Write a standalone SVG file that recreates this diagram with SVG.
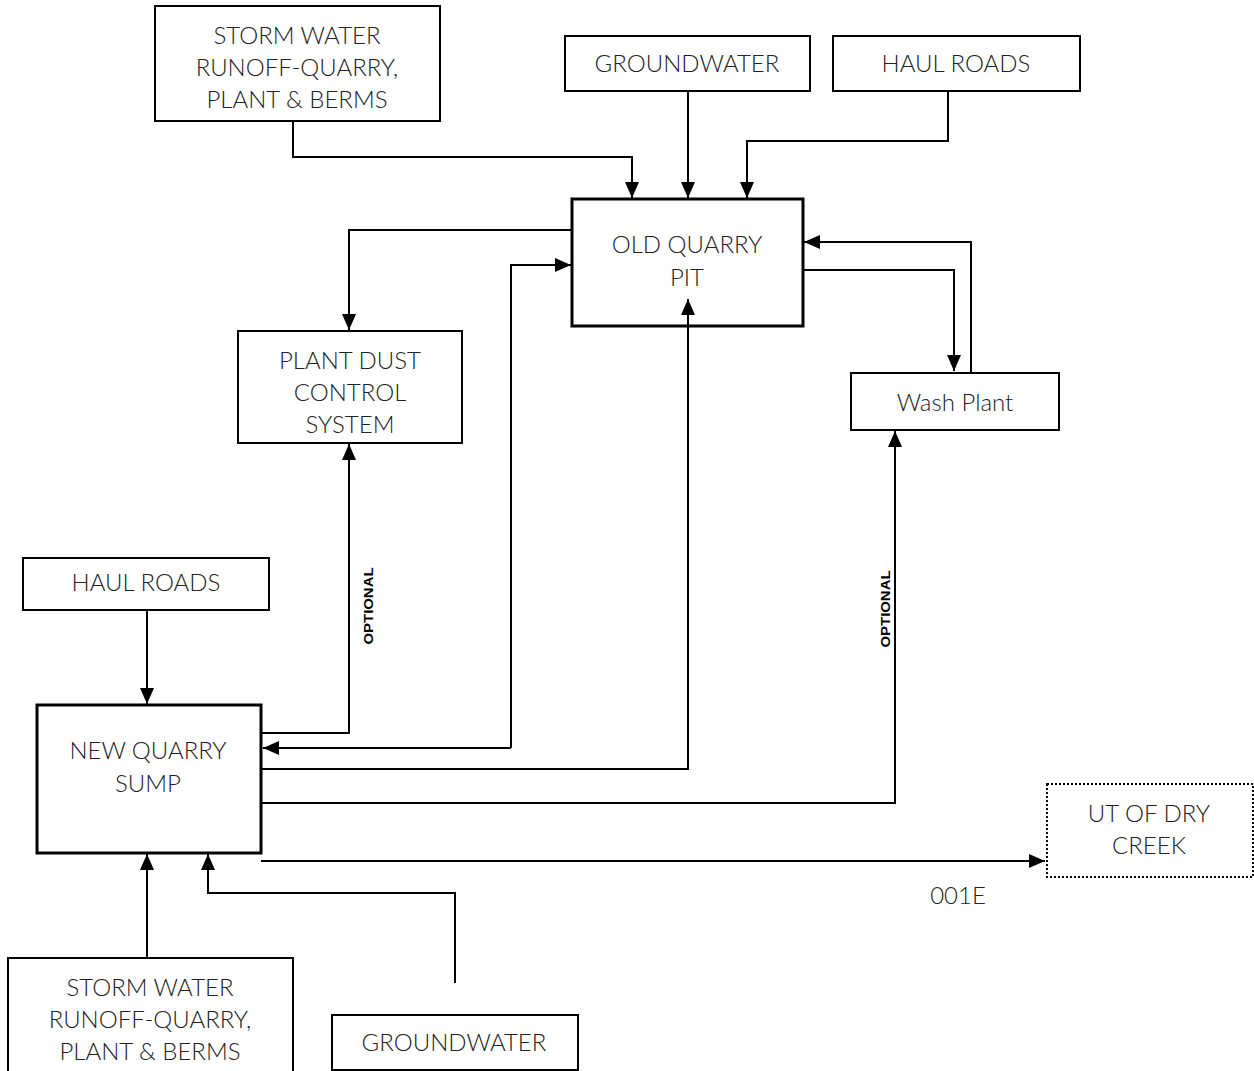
<svg xmlns="http://www.w3.org/2000/svg" width="1254" height="1071" viewBox="0 0 1254 1071">
<style>
.box{fill:#fff;stroke:#000;stroke-width:2}
.thick{fill:#fff;stroke:#000;stroke-width:3}
.dot{fill:#fff;stroke:#000;stroke-width:2;stroke-dasharray:2 2}
.t{font-family:Lato,"Liberation Sans",sans-serif;font-weight:300;font-size:24px;fill:#222;text-anchor:middle}
.opt{font-family:"Liberation Sans",Arial,sans-serif;font-weight:bold;font-size:13.5px;fill:#000;text-anchor:middle}
.c{fill:none;stroke:#000;stroke-width:2}
</style>
<defs>
<marker id="ah" markerUnits="userSpaceOnUse" markerWidth="16" markerHeight="14" viewBox="0 0 16 14" refX="16" refY="7" orient="auto">
<path d="M0,0 L16,7 L0,14 Z" fill="#000"/>
</marker>
</defs>
<rect width="1254" height="1071" fill="#fff"/>
<g id="storm-top"><rect class="box" x="155" y="6" width="285" height="115"/>
<text class="t" x="297" y="44">STORM WATER</text><text class="t" x="297" y="76">RUNOFF-QUARRY,</text><text class="t" x="297" y="108">PLANT &amp; BERMS</text></g>
<g id="groundwater-top"><rect class="box" x="565" y="36" width="245" height="55"/>
<text class="t" x="687" y="72">GROUNDWATER</text></g>
<g id="haul-top"><rect class="box" x="833" y="36" width="247" height="55"/>
<text class="t" x="956" y="72">HAUL ROADS</text></g>
<g id="old-quarry"><rect class="thick" x="572" y="199" width="231" height="127"/>
<text class="t" x="687" y="253">OLD QUARRY</text><text class="t" x="687" y="286">PIT</text></g>
<g id="plant-dust"><rect class="box" x="238" y="331" width="224" height="112"/>
<text class="t" x="350" y="369">PLANT DUST</text><text class="t" x="350" y="401">CONTROL</text><text class="t" x="350" y="433">SYSTEM</text></g>
<g id="wash-plant"><rect class="box" x="851" y="373" width="208" height="57"/>
<text class="t" x="955" y="411">Wash Plant</text></g>
<g id="haul-left"><rect class="box" x="23" y="558" width="246" height="52"/>
<text class="t" x="146" y="591">HAUL ROADS</text></g>
<g id="new-quarry"><rect class="thick" x="37" y="705" width="224" height="148"/>
<text class="t" x="148" y="759">NEW QUARRY</text><text class="t" x="148" y="792">SUMP</text></g>
<g id="ut-dry-creek"><rect class="dot" x="1047" y="784" width="206" height="93"/>
<text class="t" x="1149" y="822">UT OF DRY</text><text class="t" x="1149" y="854">CREEK</text></g>
<g id="storm-bottom"><rect class="box" x="8" y="958" width="285" height="120"/>
<text class="t" x="150" y="996">STORM WATER</text><text class="t" x="150" y="1028">RUNOFF-QUARRY,</text><text class="t" x="150" y="1060">PLANT &amp; BERMS</text></g>
<g id="groundwater-bottom"><rect class="box" x="332" y="1015" width="246" height="55"/>
<text class="t" x="454" y="1051">GROUNDWATER</text></g>
<g id="connectors">
<path class="c" d="M293,121 V157 H632 V198" marker-end="url(#ah)"/>
<path class="c" d="M688,91 V198" marker-end="url(#ah)"/>
<path class="c" d="M948,91 V141 H747 V198" marker-end="url(#ah)"/>
<path class="c" d="M572,230 H349 V330" marker-end="url(#ah)"/>
<path class="c" d="M803,270 H954 V371" marker-end="url(#ah)"/>
<path class="c" d="M971,372 V242 H804" marker-end="url(#ah)"/>
<path class="c" d="M261,733 H349 V444" marker-end="url(#ah)"/>
<path class="c" d="M511,748 V265 H571" marker-end="url(#ah)"/>
<path class="c" d="M511,748 H263" marker-end="url(#ah)"/>
<path class="c" d="M261,769 H688 V299" marker-end="url(#ah)"/>
<path class="c" d="M261,803 H895 V431" marker-end="url(#ah)"/>
<path class="c" d="M261,861 H1045" marker-end="url(#ah)"/>
<path class="c" d="M147,610 V704" marker-end="url(#ah)"/>
<path class="c" d="M147,957 V854" marker-end="url(#ah)"/>
<path class="c" d="M455,983 V893 H208 V854" marker-end="url(#ah)"/>
<text class="opt" transform="translate(373,606) rotate(-90)" textLength="77" lengthAdjust="spacingAndGlyphs">OPTIONAL</text>
<text class="opt" transform="translate(890,609) rotate(-90)" textLength="77" lengthAdjust="spacingAndGlyphs">OPTIONAL</text>
<text class="t" x="958" y="904">001E</text>
</g>
</svg>
